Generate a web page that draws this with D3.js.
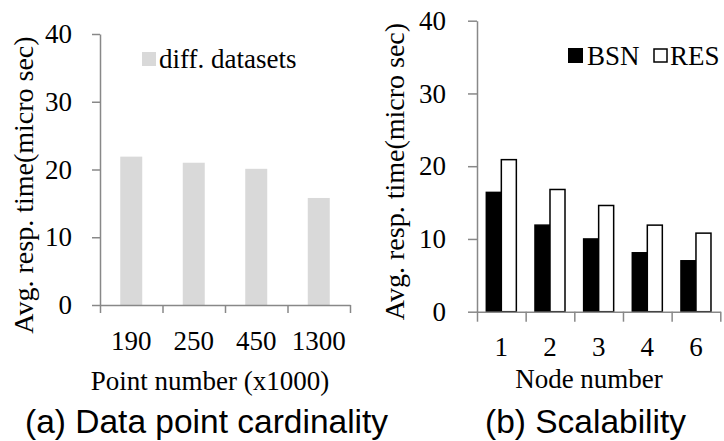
<!DOCTYPE html>
<html><head><meta charset="utf-8">
<script src="https://cdn.jsdelivr.net/npm/d3@7"></script>
<style>body{margin:0;background:#fff}svg{display:block}</style>
</head><body>
<svg id="c" width="724" height="441"></svg>
<script>
const pointCats = ["190","250","450","1300"];
const pointVals = [21.9, 21.0, 20.1, 15.8];
const nodeCats = ["1","2","3","4","6"];
const bsnVals = [16.4, 11.9, 10.0, 8.1, 7.0];
const resVals = [20.9, 16.8, 14.6, 11.9, 10.8];
const yTicks = [0,10,20,30,40];

const svg = d3.select("#c");
const serif = "'Liberation Serif','Times New Roman',serif";
const sans = "'Liberation Sans',Arial,sans-serif";
const axisCol = "#888";
const FS = 27;

function styleAxis(g){
  g.selectAll("path,line").attr("stroke", axisCol).attr("stroke-width", 1.5);
  g.selectAll("text").attr("font-family", serif).attr("font-size", FS).attr("fill", "#000");
}

// ---------- Chart A ----------
{
  const x = d3.scaleBand().domain(pointCats).range([100,350]).paddingInner(0.648).paddingOuter(0.324);
  const y = d3.scaleLinear().domain([0,40]).range([305,34]);
  const g = svg.append("g");
  g.selectAll("rect.bar").data(pointVals).join("rect")
    .attr("x",(d,i)=>x(pointCats[i])).attr("width",x.bandwidth())
    .attr("y",d=>y(d)).attr("height",d=>y(0)-y(d)).attr("fill","#d9d9d9");
  const ya = g.append("g").attr("transform","translate(100,0)")
    .call(d3.axisLeft(y).tickValues(yTicks).tickSize(8).tickPadding(20).tickSizeOuter(0));
  styleAxis(ya);
  const xb = d3.scaleLinear().domain([0,pointCats.length]).range(x.range());
  const xa = g.append("g").attr("transform","translate(0,305)")
    .call(d3.axisBottom(xb).tickValues(d3.range(pointCats.length+1)).tickFormat("").tickSize(8).tickSizeOuter(0));
  styleAxis(xa);
  g.selectAll("text.xl").data(pointCats).join("text")
    .attr("x",d=>x(d)+x.bandwidth()/2).attr("y",350).attr("text-anchor","middle")
    .attr("font-family",serif).attr("font-size",FS).text(d=>d);
  g.append("text").attr("x",210).attr("y",390).attr("text-anchor","middle")
    .attr("font-family",serif).attr("font-size",FS).text("Point number (x1000)");
  g.append("text").attr("transform","translate(33,185) rotate(-90)").attr("text-anchor","middle")
    .attr("font-family",serif).attr("font-size",28).text("Avg. resp. time(micro sec)");
  g.append("rect").attr("x",142).attr("y",52).attr("width",14).attr("height",14).attr("fill","#d9d9d9");
  g.append("text").attr("x",159).attr("y",68).attr("font-family",serif).attr("font-size",FS).text("diff. datasets");
  g.append("text").attr("x",25).attr("y",433).attr("font-family",sans).attr("font-size",33.5).text("(a) Data point cardinality");
}

// ---------- Chart B ----------
{
  const x = d3.scaleBand().domain(nodeCats).range([477,720.3]).paddingInner(0.383).paddingOuter(0.1915);
  const xs = d3.scaleBand().domain(["BSN","RES"]).range([0,x.bandwidth()]);
  const y = d3.scaleLinear().domain([0,40]).range([311.7,20.7]);
  const g = svg.append("g");
  const series = [{k:"BSN",v:bsnVals,fill:"#000"},{k:"RES",v:resVals,fill:"#fff"}];
  series.forEach(s=>{
    g.selectAll("rect."+s.k).data(s.v).join("rect")
      .attr("x",(d,i)=>x(nodeCats[i])+xs(s.k)).attr("width",xs.bandwidth())
      .attr("y",d=>y(d)).attr("height",d=>y(0)-y(d))
      .attr("fill",s.fill).attr("stroke","#000").attr("stroke-width",1.5);
  });
  const ya = g.append("g").attr("transform","translate(477,0)")
    .call(d3.axisLeft(y).tickValues(yTicks).tickSize(9).tickPadding(22).tickSizeOuter(0));
  styleAxis(ya);
  const xb = d3.scaleLinear().domain([0,nodeCats.length]).range(x.range());
  const xa = g.append("g").attr("transform","translate(0,311.7)")
    .call(d3.axisBottom(xb).tickValues(d3.range(nodeCats.length+1)).tickFormat("").tickSize(10).tickSizeOuter(0));
  styleAxis(xa);
  g.selectAll("text.xl").data(nodeCats).join("text")
    .attr("x",d=>x(d)+x.bandwidth()/2).attr("y",356).attr("text-anchor","middle")
    .attr("font-family",serif).attr("font-size",FS).text(d=>d);
  g.append("text").attr("x",589).attr("y",388).attr("text-anchor","middle")
    .attr("font-family",serif).attr("font-size",FS).text("Node number");
  g.append("text").attr("transform","translate(404,171.5) rotate(-90)").attr("text-anchor","middle")
    .attr("font-family",serif).attr("font-size",28).text("Avg. resp. time(micro sec)");
  g.append("rect").attr("x",568).attr("y",48).attr("width",15).attr("height",15).attr("fill","#000");
  g.append("text").attr("x",587).attr("y",65).attr("font-family",serif).attr("font-size",FS).text("BSN");
  g.append("rect").attr("x",654).attr("y",49).attr("width",13).attr("height",13).attr("fill","#fff").attr("stroke","#000").attr("stroke-width",1.5);
  g.append("text").attr("x",670).attr("y",65).attr("font-family",serif).attr("font-size",FS).text("RES");
  g.append("text").attr("x",485).attr("y",433).attr("font-family",sans).attr("font-size",33.5).text("(b) Scalability");
}
</script>
</body></html>
